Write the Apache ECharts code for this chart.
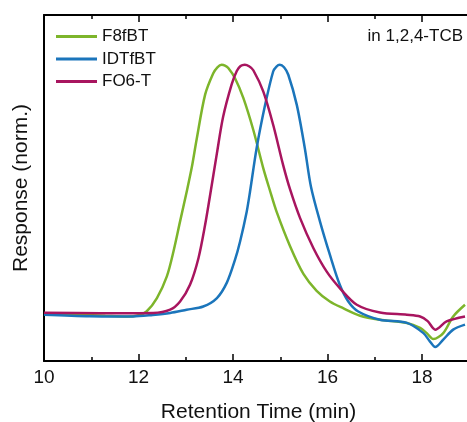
<!DOCTYPE html>
<html>
<head>
<meta charset="utf-8">
<script src="https://cdn.jsdelivr.net/npm/echarts@6/dist/echarts.min.js"></script>
<style>html,body{margin:0;padding:0;background:#fff}#c{width:467px;height:422px}</style>
</head>
<body>
<div id="c"></div>
<script>
var seriesNames = ['F8fBT', 'IDTfBT', 'FO6-T'];
var xTicks = [10, 12, 14, 16, 18];

var f8fbtT = [10, 10.76, 11.3, 11.76, 12.0, 12.17, 12.39, 12.6, 12.74, 12.88, 13.02, 13.13, 13.23, 13.41, 13.58, 13.67, 13.76, 13.83, 13.9, 14.04, 14.22, 14.43, 14.64, 14.78, 14.92, 15.21, 15.49, 15.77, 16.05, 16.33, 16.69, 17.11, 17.68, 17.96, 18.1, 18.24, 18.45, 18.66, 18.91];
var f8fbtV = [0, -0.004, -0.008, -0.011, -0.006, 0.009, 0.063, 0.15, 0.25, 0.371, 0.49, 0.59, 0.7, 0.88, 0.965, 0.99, 1.0, 0.997, 0.987, 0.947, 0.866, 0.738, 0.585, 0.496, 0.411, 0.27, 0.16, 0.092, 0.049, 0.022, -0.008, -0.024, -0.037, -0.057, -0.078, -0.102, -0.078, -0.011, 0.036];

var idtfbtT = [10, 10.97, 11.88, 12.3, 12.67, 13.02, 13.37, 13.66, 13.87, 14.04, 14.15, 14.29, 14.36, 14.5, 14.68, 14.85, 14.92, 14.99, 15.08, 15.17, 15.35, 15.52, 15.65, 15.84, 16.05, 16.26, 16.44, 16.65, 17.11, 17.68, 18.03, 18.17, 18.28, 18.45, 18.66, 18.91];
var idtfbtV = [-0.004, -0.01, -0.011, -0.005, 0.003, 0.016, 0.029, 0.063, 0.125, 0.215, 0.29, 0.41, 0.49, 0.665, 0.839, 0.973, 0.993, 1.0, 0.99, 0.96, 0.839, 0.665, 0.51, 0.371, 0.237, 0.116, 0.049, 0.009, -0.024, -0.037, -0.078, -0.112, -0.134, -0.104, -0.064, -0.044];

var fo6tT = [10, 11.19, 12.31, 12.67, 12.88, 13.09, 13.27, 13.41, 13.51, 13.66, 13.79, 13.97, 14.08, 14.16, 14.25, 14.34, 14.43, 14.64, 14.85, 15.06, 15.21, 15.42, 15.7, 15.98, 16.26, 16.62, 17.11, 17.68, 17.96, 18.12, 18.28, 18.52, 18.91];
var fo6tV = [0.004, 0.002, 0.003, 0.016, 0.049, 0.116, 0.224, 0.357, 0.47, 0.645, 0.79, 0.92, 0.975, 0.995, 1.0, 0.994, 0.978, 0.893, 0.759, 0.598, 0.498, 0.384, 0.264, 0.17, 0.103, 0.036, 0.005, -0.004, -0.011, -0.03, -0.064, -0.031, -0.011];

var colors = ['#7db52b', '#1b75bb', '#a8155f'];

function pairs(t, v) { return t.map(function (x, i) { return [x, v[i]]; }); }

var FONT = 'Liberation Sans, Arial, sans-serif';
var chart = echarts.init(document.getElementById('c'), null, {renderer: 'canvas'});

var axisCommon = {
  type: 'value', min: 10, max: 20, interval: 2,
  axisLine: {show: true, onZero: false, lineStyle: {color: '#000', width: 2}},
  axisTick: {show: true, inside: true, length: 7, lineStyle: {color: '#000', width: 1.5}},
  minorTick: {show: true, splitNumber: 2, length: 4, lineStyle: {color: '#000', width: 1.5}},
  splitLine: {show: false}
};

chart.setOption({
  animation: false,
  textStyle: {fontFamily: FONT},
  grid: {left: 44, top: 15, height: 346, width: 472.5, containLabel: false, outerBoundsMode: 'none'},
  legend: {
    data: seriesNames, orient: 'vertical', left: 56, top: 28, padding: 0,
    itemWidth: 41, itemHeight: 3, itemGap: 5.5, icon: 'rect',
    textStyle: {fontSize: 17, color: '#111', fontFamily: FONT, lineHeight: 17}
  },
  xAxis: [
    Object.assign({}, axisCommon, {
      position: 'bottom',
      axisLabel: {show: true, fontSize: 19, color: '#111', margin: 7, fontFamily: FONT,
        formatter: function (v) { return xTicks.indexOf(v) >= 0 ? String(v) : ''; }}
    }),
    Object.assign({}, axisCommon, {position: 'top', axisLabel: {show: false}})
  ],
  yAxis: {
    type: 'value', min: -0.19, max: 1.2,
    axisLine: {show: true, onZero: false, lineStyle: {color: '#000', width: 2}},
    axisTick: {show: false}, axisLabel: {show: false}, splitLine: {show: false},
    name: 'Response (norm.)', nameLocation: 'middle', nameGap: 12,
    nameTextStyle: {fontSize: 21, color: '#111', fontFamily: FONT}
  },
  graphic: [{
    type: 'text', right: 4, top: 28,
    style: {text: 'in 1,2,4-TCB', fontSize: 17, fill: '#111', fontFamily: FONT}
  }, {
    type: 'text', x: 258.5, y: 412,
    style: {text: 'Retention Time (min)', fontSize: 21, fill: '#111', fontFamily: FONT,
      textAlign: 'center', textVerticalAlign: 'middle'}
  }],
  series: [
    {name: seriesNames[0], type: 'line', data: pairs(f8fbtT, f8fbtV), color: colors[0]},
    {name: seriesNames[1], type: 'line', data: pairs(idtfbtT, idtfbtV), color: colors[1]},
    {name: seriesNames[2], type: 'line', data: pairs(fo6tT, fo6tV), color: colors[2]}
  ].map(function (s) {
    s.showSymbol = false; s.symbol = 'none'; s.smooth = 0.3;
    s.lineStyle = {width: 2.5, color: s.color};
    return s;
  })
});
</script>
</body>
</html>
